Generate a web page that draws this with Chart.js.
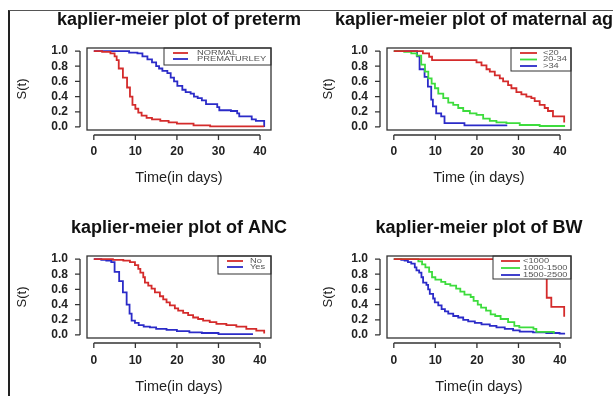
<!DOCTYPE html>
<html>
<head>
<meta charset="utf-8">
<script src="https://cdn.jsdelivr.net/npm/chart.js@4.4.0/dist/chart.umd.min.js"></script>
<style>
  html, body { margin: 0; padding: 0; background: #fff; width: 613px; height: 396px; overflow: hidden; }
  #frame { position: absolute; left: 8px; top: 10px; width: 640px; height: 420px;
           border-left: 2px solid #222; border-top: 1px solid #555; }
  canvas { position: absolute; }
</style>
</head>
<body>
<div id="frame"></div>
<canvas id="preterm" width="358" height="198" style="left:0px;top:0px"></canvas>
<canvas id="matage" width="346" height="198" style="left:306px;top:0px"></canvas>
<canvas id="anc" width="358" height="198" style="left:0px;top:198px"></canvas>
<canvas id="bw" width="346" height="198" style="left:306px;top:198px"></canvas>
<script>
// Kaplan-Meier step curves
// times (days) and survival right after each drop

// preterm
var normalT = [0, 2, 4, 5, 5.5, 6, 7, 8, 8.7, 9.3, 10, 10.7, 11.5, 12.7, 14, 16, 18, 20, 24, 28, 41];
var normalS = [1, 0.99, 0.97, 0.93, 0.88, 0.77, 0.65, 0.52, 0.40, 0.29, 0.24, 0.19, 0.15, 0.12, 0.10, 0.08, 0.06, 0.044, 0.022, 0.008, 0.008];
var prematureT = [0, 8.5, 10.5, 11.7, 12.9, 14, 15, 15.7, 16.5, 17.7, 18.5, 19.3, 20.1, 21.3, 22.1, 23.3, 24.1, 25, 26, 27, 29.7, 30.2, 33, 34.5, 35, 38, 39, 41];
var prematureS = [1, 0.98, 0.97, 0.93, 0.89, 0.85, 0.80, 0.77, 0.74, 0.71, 0.65, 0.60, 0.54, 0.49, 0.46, 0.44, 0.40, 0.38, 0.35, 0.30, 0.26, 0.22, 0.21, 0.18, 0.14, 0.10, 0.08, 0];

// maternal age
var ageLt20T = [0, 7, 8.5, 9.2, 19.9, 21.1, 22.3, 23.1, 24.3, 25.5, 26.3, 27.5, 28.3, 29.5, 30.7, 31.9, 33.1, 33.9, 35.1, 36.3, 37.1, 38.3, 41];
var ageLt20S = [1, 0.97, 0.925, 0.88, 0.85, 0.81, 0.76, 0.73, 0.68, 0.64, 0.60, 0.55, 0.51, 0.46, 0.43, 0.40, 0.38, 0.34, 0.29, 0.25, 0.21, 0.14, 0.06];
var age2034T = [0, 2.5, 4.2, 5.5, 6.6, 7.5, 8.3, 9.1, 9.9, 10.7, 11.9, 13.1, 14.3, 15.5, 16.7, 18.3, 19.9, 21.5, 23.1, 24.7, 27.1, 30.3, 35.1, 41];
var age2034S = [1, 0.99, 0.97, 0.94, 0.82, 0.73, 0.64, 0.57, 0.51, 0.44, 0.38, 0.32, 0.29, 0.25, 0.21, 0.18, 0.16, 0.11, 0.08, 0.06, 0.05, 0.026, 0.013, 0];
var ageGt34T = [0, 5.6, 6.2, 7.4, 8.2, 9.0, 9.4, 10.2, 11.4, 12.2, 17, 27.3];
var ageGt34S = [1, 0.93, 0.76, 0.66, 0.53, 0.36, 0.27, 0.18, 0.14, 0.05, 0.02, 0.02];

// ANC
var ancNoT = [0, 4.6, 7.1, 8.7, 9.9, 10.7, 11.2, 11.9, 12.3, 13.1, 13.9, 14.7, 15.9, 16.7, 17.5, 18.3, 19.5, 20.3, 21.5, 22.7, 23.9, 25.1, 26.3, 27.9, 29.5, 31.9, 34.3, 36.7, 39.1, 41];
var ancNoS = [1, 0.99, 0.98, 0.96, 0.92, 0.87, 0.82, 0.76, 0.69, 0.65, 0.61, 0.56, 0.51, 0.47, 0.43, 0.39, 0.35, 0.32, 0.29, 0.26, 0.23, 0.21, 0.19, 0.17, 0.145, 0.13, 0.11, 0.08, 0.057, 0.02];
var ancYesT = [0, 1.8, 3, 4.2, 5, 6.1, 7, 7.9, 8.6, 9.1, 9.9, 10.8, 12, 13.5, 15, 17.5, 20, 23, 26, 30, 38.3];
var ancYesS = [1, 0.99, 0.98, 0.96, 0.83, 0.71, 0.56, 0.40, 0.28, 0.19, 0.16, 0.13, 0.11, 0.10, 0.08, 0.066, 0.05, 0.035, 0.026, 0.01, 0.01];

// birth weight
var bwLt1000T = [0, 36.8, 37.9, 41];
var bwLt1000S = [1, 0.49, 0.37, 0.24];
var bw1000T = [0, 5.9, 6.8, 7.6, 8.5, 9.2, 10, 11.4, 12.4, 13.6, 15, 16, 17, 18.5, 19.2, 20.2, 21, 22.2, 23.3, 24.4, 25.7, 27.5, 29, 30.2, 33.6, 34.3, 38.5];
var bw1000S = [1, 0.97, 0.93, 0.89, 0.83, 0.76, 0.73, 0.70, 0.67, 0.65, 0.61, 0.57, 0.53, 0.50, 0.45, 0.40, 0.36, 0.32, 0.27, 0.25, 0.21, 0.17, 0.12, 0.10, 0.08, 0.04, 0.015];
var bw1500T = [0, 1.8, 2.6, 3.4, 4.2, 5.05, 5.45, 6.1, 6.65, 7.05, 7.85, 8.26, 8.66, 9.46, 9.86, 10.7, 11.5, 12.3, 13.1, 14.3, 15.5, 16.7, 17.9, 19.5, 21.1, 23.1, 24.7, 26.7, 28.7, 30.3, 33.5, 36.7, 39.9, 41];
var bw1500S = [1, 0.99, 0.98, 0.96, 0.94, 0.89, 0.85, 0.82, 0.76, 0.69, 0.66, 0.60, 0.54, 0.48, 0.43, 0.39, 0.34, 0.31, 0.28, 0.25, 0.23, 0.20, 0.18, 0.16, 0.14, 0.12, 0.10, 0.08, 0.06, 0.044, 0.035, 0.026, 0.018, 0.005];

var xTicks = [0, 10, 20, 30, 40];
var yTicks = [0, 0.2, 0.4, 0.6, 0.8, 1.0];

var RED = '#d42b2b', GREEN = '#3ddc3d', BLUE = '#2b2bc8';
var FONT = "'Liberation Sans', Arial, sans-serif";

function pts(t, s) {
    return t.map(function(v, i) { return {x: v, y: s[i]}; });
}

// R-style box and detached axes
var rAxes = {
    id: 'rAxes',
    afterDraw: function(chart) {
        var a = chart.chartArea, ctx = chart.ctx;
        var xs = chart.scales.x, ys = chart.scales.y;
        ctx.save();
        ctx.strokeStyle = '#333';
        ctx.lineWidth = 1.3;
        ctx.strokeRect(a.left, a.top, a.right - a.left, a.bottom - a.top);

        // x axis
        var yy = a.bottom + 5;
        ctx.beginPath();
        ctx.moveTo(xs.getPixelForValue(xTicks[0]), yy);
        ctx.lineTo(xs.getPixelForValue(xTicks[xTicks.length - 1]), yy);
        xTicks.forEach(function(v) {
            var px = xs.getPixelForValue(v);
            ctx.moveTo(px, yy);
            ctx.lineTo(px, yy + 5);
        });
        // y axis
        var xx = a.left - 7;
        ctx.moveTo(xx, ys.getPixelForValue(yTicks[0]));
        ctx.lineTo(xx, ys.getPixelForValue(yTicks[yTicks.length - 1]));
        yTicks.forEach(function(v) {
            var py = ys.getPixelForValue(v);
            ctx.moveTo(xx, py);
            ctx.lineTo(xx - 5, py);
        });
        ctx.stroke();
        ctx.restore();
    },
    afterDatasetsDraw: function(chart) {
        // legend box in the top right corner of the plot
        var o = chart.options.plugins.kmLegend;
        if (!o) return;
        var a = chart.chartArea, ctx = chart.ctx;
        var x0 = a.right - o.width, y0 = a.top;
        ctx.save();
        ctx.fillStyle = '#fff';
        ctx.fillRect(x0, y0, o.width, o.height);
        ctx.strokeStyle = '#333';
        ctx.lineWidth = 1;
        ctx.strokeRect(x0, y0, o.width, o.height);
        ctx.font = '7px ' + FONT;
        ctx.textBaseline = 'middle';
        chart.data.datasets.forEach(function(ds, i) {
            var ry = y0 + 5 + i * o.rowGap;
            ctx.strokeStyle = ds.borderColor;
            ctx.lineWidth = 1.8;
            ctx.beginPath();
            ctx.moveTo(x0 + o.lineX, ry);
            ctx.lineTo(x0 + o.lineX + o.lineLen, ry);
            ctx.stroke();
            ctx.fillStyle = '#555';
            ctx.save();
            ctx.translate(x0 + o.textX, ry);
            ctx.scale(1.33, 1);
            ctx.fillText(ds.label, 0, 0);
            ctx.restore();
        });
        ctx.restore();
    }
};

function makePanel(id, title, xTitle, series, leftW, boxW, geo, legend) {
    var canvas = document.getElementById(id);
    var datasets = series.map(function(s) {
        return {
            label: s.label,
            data: pts(s.t, s.s),
            borderColor: s.color,
            borderWidth: 1.8,
            pointRadius: 0,
            stepped: true,
            fill: false
        };
    });
    return new Chart(canvas, {
        type: 'line',
        data: { datasets: datasets },
        plugins: [rAxes],
        options: {
            responsive: false,
            animation: false,
            layout: { padding: 0 },
            scales: {
                x: {
                    type: 'linear',
                    min: -1.64, max: 42.64,
                    afterBuildTicks: function(s) { s.ticks = xTicks.map(function(v) { return {value: v}; }); },
                    afterFit: function(s) { s.height = 198 - geo.bottom; },
                    grid: { display: false, drawTicks: false },
                    border: { display: false },
                    ticks: {
                        autoSkip: false,
                        maxRotation: 0,
                        padding: geo.tickPad,
                        color: '#222',
                        font: { family: FONT, size: 12, weight: 'bold' }
                    },
                    title: {
                        display: true, text: xTitle, color: '#222',
                        font: { family: FONT, size: 14.5 },
                        padding: { top: 0, bottom: geo.xTitlePad }
                    }
                },
                y: {
                    type: 'linear',
                    position: 'left',
                    min: -0.04, max: 1.04,
                    afterBuildTicks: function(s) { s.ticks = yTicks.map(function(v) { return {value: v}; }); },
                    afterFit: function(s) { s.width = leftW; },
                    grid: { display: false, drawTicks: false },
                    border: { display: false },
                    ticks: {
                        autoSkip: false,
                        padding: 19,
                        color: '#222',
                        font: { family: FONT, size: 12, weight: 'bold', lineHeight: 1 },
                        callback: function(v) { return Number(v).toFixed(1); }
                    },
                    title: {
                        display: true, text: 'S(t)', color: '#222',
                        font: { family: FONT, size: 13 },
                        padding: { top: 14.2, bottom: 0 }
                    }
                },
                yr: {
                    position: 'right',
                    display: true,
                    afterFit: function(s) { s.width = canvas.width - leftW - boxW; },
                    grid: { display: false, drawTicks: false },
                    border: { display: false },
                    ticks: { display: false }
                }
            },
            plugins: {
                legend: { display: false },
                tooltip: { enabled: false },
                title: {
                    display: true, text: title, color: '#111',
                    font: { family: FONT, size: 18, weight: 'bold' },
                    padding: { top: geo.titleTop, bottom: geo.top - geo.titleTop - 21.6 }
                },
                kmLegend: legend
            }
        }
    });
}

var topGeo = { top: 48, bottom: 130, titleTop: 8.9, tickPad: 14.8, xTitlePad: 11.3 };
var botGeo = { top: 58, bottom: 140, titleTop: 18.9, tickPad: 15.8, xTitlePad: 0.8 };

makePanel('preterm', 'kaplier-meier plot of preterm', 'Time(in days)', [
    { label: 'NORMAL', t: normalT, s: normalS, color: RED },
    { label: 'PREMATURLEY', t: prematureT, s: prematureS, color: BLUE }
], 87, 184, topGeo, { width: 107, height: 17, rowGap: 6, lineX: 9, lineLen: 15, textX: 33 });

makePanel('matage', 'kaplier-meier plot of maternal age', 'Time (in days)', [
    { label: '<20', t: ageLt20T, s: ageLt20S, color: RED },
    { label: '20-34', t: age2034T, s: age2034S, color: GREEN },
    { label: '>34', t: ageGt34T, s: ageGt34S, color: BLUE }
], 81, 184, topGeo, { width: 60, height: 23, rowGap: 6.5, lineX: 9, lineLen: 17, textX: 32 });

makePanel('anc', 'kaplier-meier plot of ANC', 'Time(in days)', [
    { label: 'No', t: ancNoT, s: ancNoS, color: RED },
    { label: 'Yes', t: ancYesT, s: ancYesS, color: BLUE }
], 87, 184, botGeo, { width: 53, height: 18, rowGap: 6, lineX: 9, lineLen: 16, textX: 32 });

makePanel('bw', 'kaplier-meier plot of BW', 'Time(in days)', [
    { label: '<1000', t: bwLt1000T, s: bwLt1000S, color: RED },
    { label: '1000-1500', t: bw1000T, s: bw1000S, color: GREEN },
    { label: '1500-2500', t: bw1500T, s: bw1500S, color: BLUE }
], 81, 184, botGeo, { width: 78, height: 23, rowGap: 7, lineX: 8, lineLen: 19, textX: 30 });
</script>
</body>
</html>
